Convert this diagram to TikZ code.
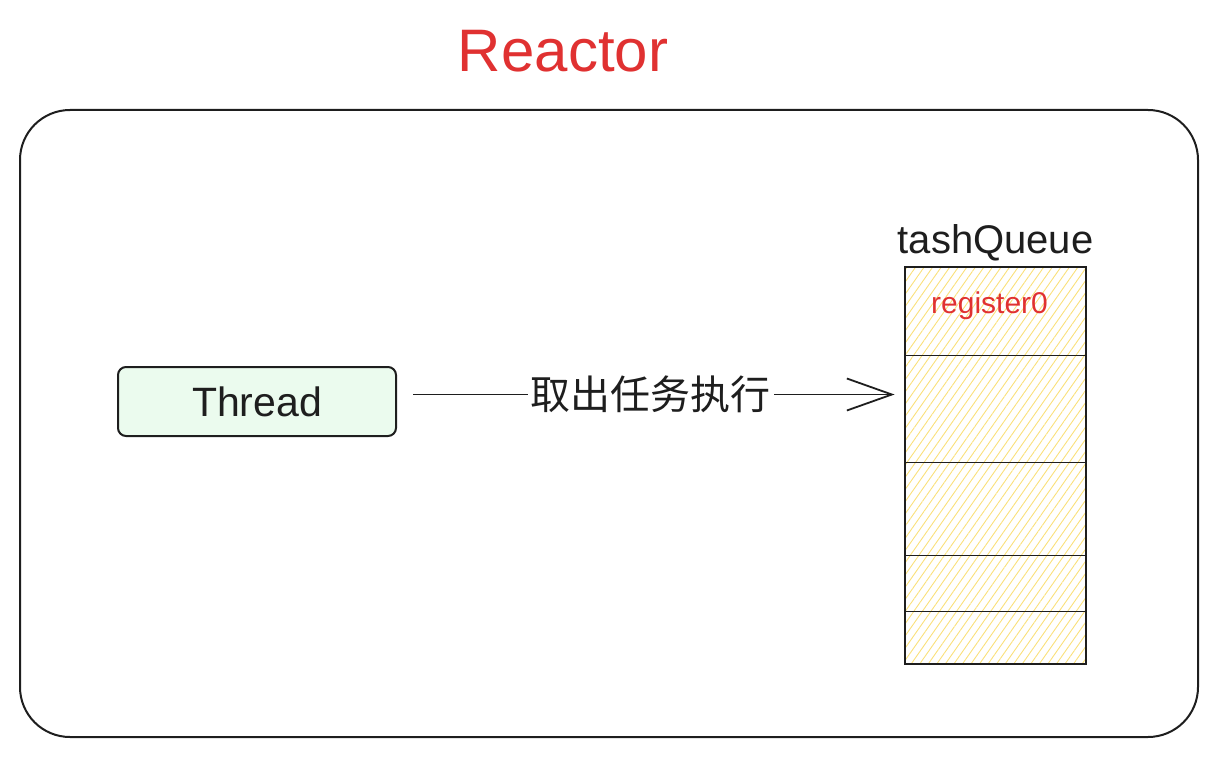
\documentclass[tikz,border=0pt]{standalone}
\usepackage{fontspec}
\setmainfont{Liberation Sans}
\newfontfamily\cjk{Noto Sans CJK SC}
\usepackage{tikz}
\usetikzlibrary{arrows.meta,positioning,patterns.meta}
\definecolor{ink}{HTML}{1E1E1E}
\definecolor{redink}{HTML}{E03131}
\definecolor{mint}{HTML}{EBFBEE}
\definecolor{hatch}{HTML}{FAE07A}

\begin{document}
\begin{tikzpicture}[x=1pt,y=-1pt,
  frame/.style={draw=ink,line width=2pt,rounded corners=50pt,minimum width=1178pt,minimum height=627pt,inner sep=0pt},
  box/.style={draw=ink,line width=2pt,rounded corners=8pt,fill=mint,minimum width=278pt,minimum height=69pt,font=\fontsize{41}{46}\selectfont,text=ink},
  queuebox/.style={draw=ink,line width=2pt,minimum width=181pt,minimum height=397pt,inner sep=0pt,
    pattern={Lines[angle=55,distance=7pt,line width=0.9pt]},pattern color=hatch},
  divider/.style={ink,line width=1.8pt},
  flow/.style={-{Straight Barb[length=45pt,width=32pt,line width=1.8pt]},ink,line width=1.8pt}]
\useasboundingbox (0,0) rectangle (1218,757);
\node[frame] (reactor) at (609,423.5) {};
\node[anchor=base,text=redink,font=\fontsize{60}{66}\selectfont] (title) at (563,72) {Reactor};
\node[box] (thread) at (257,401.5) {Thread};
\node[queuebox] (queue) at (995.5,465.5) {};
\node[above=2pt of queue,text=ink,font=\fontsize{40}{44}\selectfont] (qlabel) {tashQueue};
\node[below=22pt of queue.north,xshift=-6pt,text=redink,font=\fontsize{30}{34}\selectfont] (reg) {register0};
\foreach \d in {89,196,289,345}
  \draw[divider] ([yshift=-\d pt]queue.north west) -- ([yshift=-\d pt]queue.north east);
\coordinate (tout) at ([yshift=7pt]thread.east);
\draw[flow,shorten <=16pt,shorten >=10pt] (tout) -- (tout -| queue.west)
  node[midway,fill=white,inner sep=3pt,text=ink,font=\cjk\fontsize{40}{44}\selectfont] (act) {取出任务执行};
\end{tikzpicture}
\end{document}
